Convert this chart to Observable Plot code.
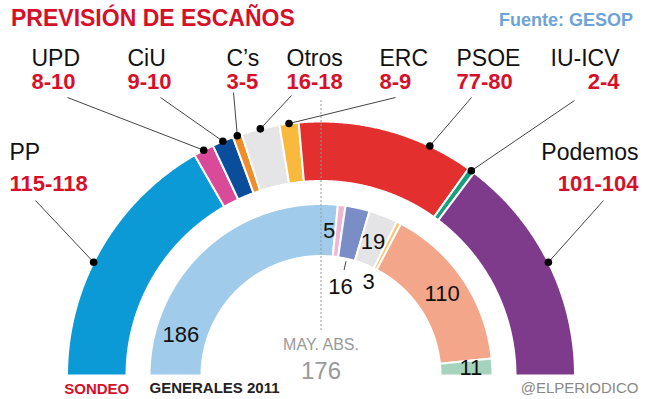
<!DOCTYPE html>
<html><head><meta charset="utf-8">
<script src="https://cdn.jsdelivr.net/npm/d3@7"></script>
<script src="https://cdn.jsdelivr.net/npm/@observablehq/plot@0.6"></script>
<style>
body{margin:0;background:#fff;font-family:"Liberation Sans",Arial,Helvetica,sans-serif;}
#wrap{position:relative;width:646px;height:399px;overflow:hidden;background:#fff;}
#head{position:relative;height:36px;}
#title{position:absolute;left:11px;top:7px;font-size:23px;line-height:23px;font-weight:bold;color:#d7102a;white-space:nowrap;}
#source{position:absolute;right:13px;top:11px;font-size:18px;line-height:18px;font-weight:bold;color:#6ea3d8;white-space:nowrap;}
#chart svg{display:block;}
</style></head><body>
<div id="wrap">
  <div id="head"><div id="title">PREVISIÓN DE ESCAÑOS</div><div id="source">Fuente: GESOP</div></div>
  <div id="chart"></div>
</div>
<script>
// ---- DATA ----
const parties = ["PP", "UPD", "CiU", "C’s", "Otros", "ERC", "PSOE", "IU-ICV", "Podemos"];
const sondeoMin = [115, 8, 9, 3, 16, 8, 77, 2, 101];
const sondeoMax = [118, 10, 10, 5, 18, 9, 80, 4, 104];
const sondeoColors = ["#0b9ad5", "#d94a98", "#0a4d9b", "#f08c2a", "#e5e5e7", "#f8b93c", "#e3302f", "#17a07a", "#7e3a8b"];

const generalesParties = ["PP", "UPD", "CiU", "Otros", "ERC", "PSOE", "IU-ICV"];
const generales2011 = [186, 5, 16, 19, 3, 110, 11];
const generalesColors = ["#a1cbea", "#f2b6d5", "#7a8dc6", "#e4e4e6", "#f9c66d", "#f4a68a", "#a6d3be"];

const majority = 176;
const majorityLabel = "MAY. ABS.";

// ---- LAYOUT (pixels of the 646x399 page) ----
const W = 646, TOP = 36, H = 399 - TOP;
const cx = 320.5, cy = 375;
const outerR = [194.5, 254], innerR = [119.5, 171.5];
const px = v => v - cx, py = v => cy - v;
const outerLabelLayout = [
  {x: 9,   anchor: "start", nameY: 159, numY: 190, lx: 35,  ly: 200, frac: 0.44},
  {x: 31,  anchor: "start", nameY: 65,  numY: 88,  lx: 67,  ly: 97,  frac: 0.5},
  {x: 127, anchor: "start", nameY: 65,  numY: 88,  lx: 160, ly: 97,  frac: 0.5},
  {x: 226, anchor: "start", nameY: 65,  numY: 88,  lx: 233, ly: 92,  frac: 0.5},
  {x: 286, anchor: "start", nameY: 65,  numY: 88,  lx: 291, ly: 95,  frac: 0.5},
  {x: 379, anchor: "start", nameY: 65,  numY: 88,  lx: 395, ly: 97,  frac: 0.5},
  {x: 456, anchor: "start", nameY: 65,  numY: 88,  lx: 471, ly: 97,  frac: 0.75},
  {x: 619, anchor: "end",   nameY: 65,  numY: 88,  lx: 574, ly: 100, frac: 0.5},
  {x: 638, anchor: "end",   nameY: 159, numY: 190, lx: 603, ly: 200, frac: 0.5}
];
const innerLabelLayout = [
  {frac: 0.17, r: 146, anchor: "middle"},
  {frac: 0,    r: 145, anchor: "end"},
  {frac: 0.5,  r: 91,  anchor: "middle", tick: [108, 117]},
  {frac: 0.5,  r: 143, anchor: "middle"},
  {frac: 0.5,  r: 105, anchor: "middle"},
  {frac: 0.5,  r: 146, anchor: "middle"},
  {frac: 0.5,  r: 150, anchor: "middle"}
];

// ---- GEOMETRY ----
const sondeoMid = sondeoMin.map((m, i) => (m + sondeoMax[i]) / 2);
function spans(values) {
  const total = d3.sum(values);
  let c = 0;
  return values.map(v => { const a0 = c / total * Math.PI; c += v; return [a0, c / total * Math.PI]; });
}
const polar = (r, a) => ({x: -r * Math.cos(a), y: r * Math.sin(a)});
function ringPoly(id, a0, a1, r0, r1, color) {
  const n = Math.max(2, Math.ceil((a1 - a0) / (Math.PI / 720)));
  const pts = [];
  for (let k = 0; k <= n; k++) pts.push({id, color, ...polar(r1, a0 + (a1 - a0) * k / n)});
  for (let k = n; k >= 0; k--) pts.push({id, color, ...polar(r0, a0 + (a1 - a0) * k / n)});
  pts.push({...pts[0]});
  return pts;
}
const outerSpans = spans(sondeoMid);
const innerSpans = spans(generales2011);
const polys = [
  ...outerSpans.flatMap(([a0, a1], i) => ringPoly("o" + i, a0, a1, outerR[0], outerR[1], sondeoColors[i])),
  ...innerSpans.flatMap(([a0, a1], i) => ringPoly("i" + i, a0, a1, innerR[0], innerR[1], generalesColors[i]))
];

const dots = outerSpans.map(([a0, a1], i) => polar(outerR[1], a0 + (a1 - a0) * outerLabelLayout[i].frac));
const leaders = dots.map((d, i) => ({x1: px(outerLabelLayout[i].lx), y1: py(outerLabelLayout[i].ly), x2: d.x, y2: d.y}));
const names = parties.map((p, i) => ({text: p, x: px(outerLabelLayout[i].x), y: py(outerLabelLayout[i].nameY), anchor: outerLabelLayout[i].anchor}));
const ranges = parties.map((p, i) => ({text: `${sondeoMin[i]}-${sondeoMax[i]}`, x: px(outerLabelLayout[i].x), y: py(outerLabelLayout[i].numY), anchor: outerLabelLayout[i].anchor}));

const innerLabels = generales2011.map((v, i) => {
  const L = innerLabelLayout[i], [a0, a1] = innerSpans[i];
  return {text: String(v), anchor: L.anchor, ...polar(L.r, a0 + (a1 - a0) * L.frac)};
});
const ticks = generales2011.map((v, i) => {
  const L = innerLabelLayout[i]; if (!L.tick) return null;
  const [a0, a1] = innerSpans[i], a = a0 + (a1 - a0) * L.frac;
  const p = polar(L.tick[0], a), q = polar(L.tick[1], a);
  return {x1: p.x, y1: p.y, x2: q.x, y2: q.y};
}).filter(Boolean);

const byAnchor = (arr, a) => arr.filter(d => d.anchor === a);
const textMarks = (arr, opts) => ["start", "middle", "end"].map(a =>
  Plot.text(byAnchor(arr, a), {x: "x", y: "y", text: "text", textAnchor: a, ...opts}));

const font = "'Liberation Sans', Arial, Helvetica, sans-serif";
const chart = Plot.plot({
  width: W, height: H, margin: 0,
  x: {domain: [-cx, W - cx], range: [0, W], axis: null},
  y: {domain: [cy - 399, cy - TOP], range: [H, 0], axis: null},
  color: {type: "identity"},
  style: {fontFamily: font, background: "white", overflow: "visible"},
  marks: [
    Plot.line(polys, {x: "x", y: "y", z: "id", fill: "color", stroke: "white", strokeWidth: 2, curve: "linear", strokeLinejoin: "miter"}),
    Plot.ruleX([0], {y1: py(330), y2: py(100), stroke: "#999", strokeWidth: 1, strokeDasharray: "2,2"}),
    Plot.link(leaders, {x1: "x1", y1: "y1", x2: "x2", y2: "y2", stroke: "#444", strokeWidth: 1}),
    Plot.link(ticks, {x1: "x1", y1: "y1", x2: "x2", y2: "y2", stroke: "#444", strokeWidth: 1}),
    Plot.dot(dots, {x: "x", y: "y", r: 3.8, fill: "#000"}),
    ...textMarks(names, {lineAnchor: "bottom", fontSize: 23, fill: "#111"}),
    ...textMarks(ranges, {lineAnchor: "bottom", fontSize: 22, fontWeight: "bold", fill: "#d7102a"}),
    ...textMarks(innerLabels, {lineAnchor: "middle", fontSize: 22, fill: "#111"}),
    Plot.text([majorityLabel], {x: 0, y: py(349), text: d => d, lineAnchor: "bottom", fontSize: 16, fill: "#999"}),
    Plot.text([majority], {x: 0, y: py(378), text: d => String(d), lineAnchor: "bottom", fontSize: 24, fill: "#999"}),
    Plot.text(["SONDEO"], {x: -(outerR[0] + outerR[1]) / 2, y: py(393), text: d => d, lineAnchor: "bottom", fontSize: 15, fontWeight: "bold", fill: "#d7102a"}),
    Plot.text(["GENERALES 2011"], {x: -innerR[1], y: py(392), text: d => d, textAnchor: "start", lineAnchor: "bottom", fontSize: 15, fontWeight: "bold", fill: "#222"}),
    Plot.text(["@ELPERIODICO"], {x: px(638), y: py(392), text: d => d, textAnchor: "end", lineAnchor: "bottom", fontSize: 15, fill: "#888"})
  ]
});
document.getElementById("chart").appendChild(chart);
</script>
</body></html>
